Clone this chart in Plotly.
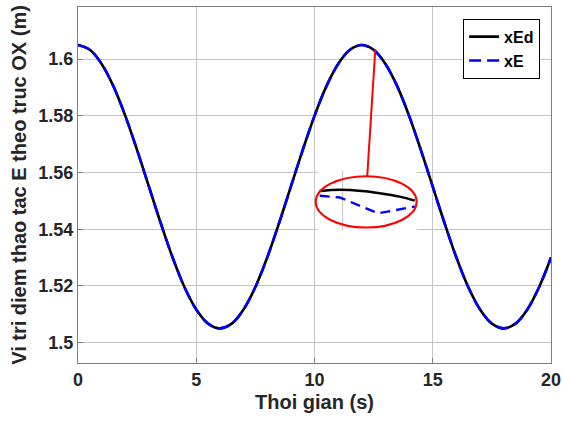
import plotly.graph_objects as go

# ---- data ----
t = [0, 0.5, 1, 1.5, 2, 2.5, 3, 3.5, 4, 4.5, 5, 5.5, 6, 6.5, 7, 7.5, 8, 8.5, 9, 9.5,
     10, 10.5, 11, 11.5, 12, 12.5, 13, 13.5, 14, 14.5, 15, 15.5, 16, 16.5, 17, 17.5,
     18, 18.5, 19, 19.5, 20]
xEd = [1.6050, 1.6033, 1.5983, 1.5904, 1.5800, 1.5679, 1.5550, 1.5421, 1.5300, 1.5196,
       1.5117, 1.5067, 1.5050, 1.5067, 1.5117, 1.5196, 1.5300, 1.5421, 1.5550, 1.5679,
       1.5800, 1.5904, 1.5983, 1.6033, 1.6050, 1.6033, 1.5983, 1.5904, 1.5800, 1.5679,
       1.5550, 1.5421, 1.5300, 1.5196, 1.5117, 1.5067, 1.5050, 1.5067, 1.5117, 1.5196,
       1.5300]
xE = [1.6050, 1.6033, 1.5983, 1.5904, 1.5800, 1.5679, 1.5550, 1.5421, 1.5300, 1.5196,
      1.5117, 1.5067, 1.5050, 1.5067, 1.5117, 1.5196, 1.5300, 1.5421, 1.5550, 1.5679,
      1.5800, 1.5904, 1.5983, 1.6033, 1.6050, 1.6033, 1.5983, 1.5904, 1.5800, 1.5679,
      1.5550, 1.5421, 1.5300, 1.5196, 1.5117, 1.5067, 1.5050, 1.5067, 1.5117, 1.5196,
      1.5300]

# zoomed detail drawn inside the ellipse (in main-axis coordinates)
zoom_t_d = [10.22, 11.07, 12.0, 12.76, 13.6, 14.24]
zoom_xEd = [1.5535, 1.5539, 1.5535, 1.5527, 1.5515, 1.5501]
zoom_t = [10.22, 11.07, 12.69, 14.24]
zoom_xE = [1.5518, 1.5512, 1.5456, 1.5480]

x_ticks = [0, 5, 10, 15, 20]
x_tick_labels = ["0", "5", "10", "15", "20"]
y_ticks = [1.5, 1.52, 1.54, 1.56, 1.58, 1.6]
y_tick_labels = ["1.5", "1.52", "1.54", "1.56", "1.58", "1.6"]

x_title = "Thoi gian (s)"
y_title = "Vi tri diem thao tac E theo truc OX (m)"

FONT = "Liberation Sans, Arial, sans-serif"
TXT = "#262626"
GRID = "#c4c4c4"
BOX = "#7f7f7f"

fig = go.Figure()
fig.add_trace(go.Scatter(x=t, y=xEd, name="xEd", mode="lines",
                         line=dict(color="black", width=2.6, shape="spline")))
fig.add_trace(go.Scatter(x=t, y=xE, name="xE", mode="lines",
                         line=dict(color="#0000ff", width=2.6, dash="12px,6px", shape="spline")))

# inset white panel hiding grid lines
fig.add_shape(type="rect", x0=10.14, x1=14.33, y0=1.5395, y1=1.5607,
              fillcolor="white", line=dict(width=0), layer="between")
fig.add_shape(type="line", x0=11.19, x1=11.19, y0=1.5395, y1=1.5607,
              line=dict(color=GRID, width=1), layer="between")

fig.add_trace(go.Scatter(x=zoom_t_d, y=zoom_xEd, mode="lines", showlegend=False,
                         line=dict(color="black", width=2.4, shape="spline")))
fig.add_trace(go.Scatter(x=zoom_t, y=zoom_xE, mode="lines", showlegend=False,
                         line=dict(color="#0000ff", width=2.4, dash="10px,6px")))

# red ellipse and pointer line
fig.add_shape(type="circle", x0=10.05, x1=14.32, y0=1.5406, y1=1.5587,
              line=dict(color="#ff0000", width=2), layer="above")
fig.add_shape(type="line", x0=12.23, y0=1.5587, x1=12.57, y1=1.6034,
              line=dict(color="#ff0000", width=2), layer="above")

fig.update_layout(
    width=562, height=421,
    margin=dict(l=78, r=11, t=7, b=58, autoexpand=False),
    paper_bgcolor="white", plot_bgcolor="white",
    font=dict(family=FONT, color=TXT, size=16, weight="bold"),
    showlegend=True,
    legend=dict(x=0.977, xanchor="right", y=0.967, yanchor="top",
                bgcolor="white", bordercolor="black", borderwidth=1,
                font=dict(family=FONT, size=16, color="black", weight="bold"),
                tracegroupgap=0),
)
fig.update_xaxes(range=[0, 20], tickvals=x_ticks, ticktext=x_tick_labels,
                 showgrid=True, gridcolor=GRID, gridwidth=1,
                 showline=True, linecolor=BOX, linewidth=1, mirror=True,
                 ticks="inside", ticklen=5, tickcolor=BOX, zeroline=False,
                 automargin=False,
                 tickfont=dict(size=18, weight="bold", color=TXT),
                 title=dict(text=x_title, font=dict(size=20, weight="bold", color=TXT), standoff=6))
fig.update_yaxes(range=[1.4928, 1.6184], tickvals=y_ticks, ticktext=y_tick_labels,
                 showgrid=True, gridcolor=GRID, gridwidth=1,
                 showline=True, linecolor=BOX, linewidth=1, mirror=True,
                 ticks="inside", ticklen=5, tickcolor=BOX, zeroline=False,
                 automargin=False,
                 tickfont=dict(size=18, weight="bold", color=TXT),
                 title=dict(text=y_title, font=dict(size=20, weight="bold", color=TXT), standoff=6))

fig.write_html("out.html")
